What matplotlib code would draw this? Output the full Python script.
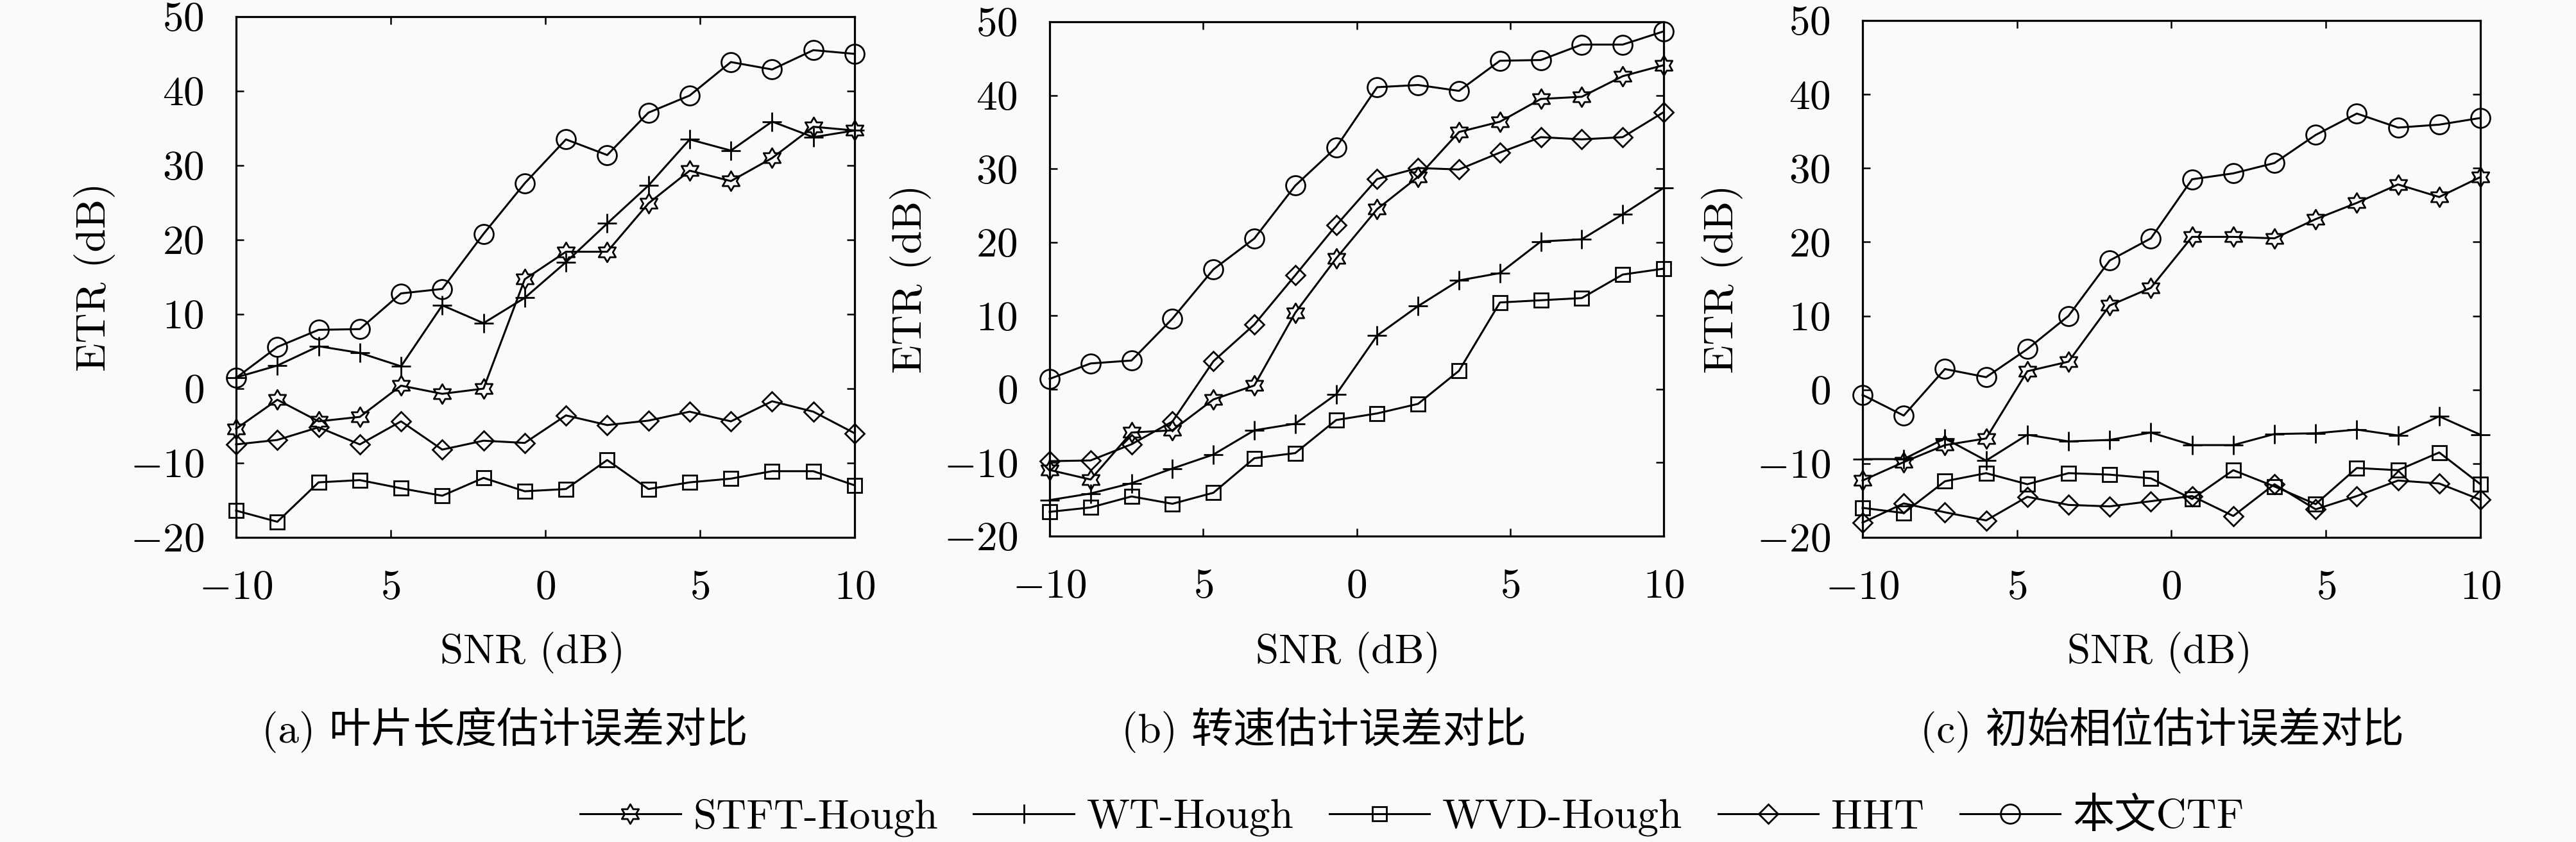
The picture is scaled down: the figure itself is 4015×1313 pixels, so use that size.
import numpy as np
import matplotlib
matplotlib.use("Agg")
import matplotlib.pyplot as plt
from matplotlib.path import Path

plt.rcParams['mathtext.fontset'] = 'cm'
plt.rcParams['font.family'] = ['cmr10', 'Noto Sans CJK SC', 'DejaVu Sans']
plt.rcParams['axes.unicode_minus'] = False
plt.rcParams['axes.formatter.use_mathtext'] = True

# ---------------- data ----------------
snr = np.linspace(-10, 10, 16)
series_names = ['STFT-Hough', 'WT-Hough', 'WVD-Hough', 'HHT', '本文CTF']

a_stft = [-5.4, -1.5, -4.4, -3.8, 0.4, -0.7, 0.0, 14.7, 18.4, 18.4, 24.9, 29.3, 27.9, 31.0, 35.2, 34.7]
a_wt   = [1.5, 3.1, 5.7, 4.8, 3.0, 11.2, 8.8, 12.2, 17.0, 22.2, 27.3, 33.5, 32.0, 35.9, 33.8, 34.7]
a_wvd  = [-16.4, -17.9, -12.6, -12.3, -13.4, -14.4, -12.0, -13.8, -13.5, -9.6, -13.5, -12.6, -12.1, -11.1, -11.1, -13.0]
a_hht  = [-7.5, -6.9, -5.2, -7.5, -4.4, -8.2, -7.0, -7.3, -3.6, -4.9, -4.3, -3.1, -4.4, -1.7, -3.1, -6.0]
a_ctf  = [1.45, 5.6, 7.9, 8.0, 12.8, 13.4, 20.8, 27.6, 33.5, 31.4, 37.1, 39.4, 43.9, 42.9, 45.5, 45.0]

b_stft = [-11.0, -12.3, -5.9, -5.6, -1.4, 0.5, 10.4, 17.8, 24.5, 28.9, 35.0, 36.4, 39.5, 39.8, 42.6, 44.1]
b_wt   = [-15.1, -14.2, -12.8, -10.8, -8.9, -5.6, -4.7, -0.7, 7.3, 11.3, 14.8, 15.8, 20.1, 20.4, 23.8, 27.4]
b_wvd  = [-16.7, -16.1, -14.6, -15.6, -14.1, -9.4, -8.7, -4.2, -3.3, -2.0, 2.5, 11.8, 12.1, 12.4, 15.6, 16.4]
b_hht  = [-9.8, -9.7, -7.5, -4.4, 3.8, 8.8, 15.5, 22.3, 28.6, 30.1, 29.9, 32.2, 34.3, 34.0, 34.3, 37.7]
b_ctf  = [1.4, 3.5, 3.9, 9.6, 16.3, 20.5, 27.7, 32.9, 41.1, 41.4, 40.6, 44.7, 44.8, 46.9, 46.9, 48.7]

c_stft = [-12.3, -9.8, -7.5, -6.6, 2.5, 3.8, 11.4, 13.8, 20.7, 20.7, 20.5, 23.1, 25.3, 27.8, 26.1, 28.8]
c_wt   = [-9.4, -9.4, -6.6, -9.6, -6.1, -7.0, -6.8, -5.8, -7.5, -7.5, -6.0, -5.9, -5.4, -6.2, -3.6, -6.1]
c_wvd  = [-16.0, -16.7, -12.4, -11.3, -12.8, -11.3, -11.5, -12.0, -14.8, -10.9, -13.1, -15.5, -10.6, -10.9, -8.5, -12.8]
c_hht  = [-18.0, -15.4, -16.6, -17.7, -14.5, -15.6, -15.8, -15.1, -14.4, -17.1, -12.8, -16.2, -14.4, -12.3, -12.7, -14.9]
c_ctf  = [-0.7, -3.5, 2.8, 1.7, 5.5, 10.0, 17.5, 20.5, 28.5, 29.3, 30.7, 34.5, 37.4, 35.5, 35.9, 36.8]

xticks = [-10, -5, 0, 5, 10]
xtick_labels = ['$-10$', '$5$', '$0$', '$5$', '$10$']
yticks = [50, 40, 30, 20, 10, 0, -10, -20]
ytick_labels = ['$50$', '$40$', '$30$', '$20$', '$10$', '$0$', '$-10$', '$-20$']
captions = ['(a) 叶片长度估计误差对比', '(b) 转速估计误差对比', '(c) 初始相位估计误差对比']
xlabel_text = 'SNR (dB)'
ylabel_text = 'ETR (dB)'

panels = [
    [a_stft, a_wt, a_wvd, a_hht, a_ctf],
    [b_stft, b_wt, b_wvd, b_hht, b_ctf],
    [c_stft, c_wt, c_wvd, c_hht, c_ctf],
]

# ---------------- style ----------------
W, H = 4016, 1313
FS = 47
BG = '#fafafa'
hexagram = Path.unit_regular_star(6, 0.577)
markers = [hexagram, '+', 's', 'D', 'o']
msizes = [22, 22, 16.5, 15, 21.5]

# axes boxes in pixels: left, right, top, bottom
boxes = [(368, 1332, 26, 838), (1636, 2593, 34, 836), (2903, 3866, 32, 838)]
ylab_x = [148, 1420, 2685]
xlab_cx = [830, 2101, 3366]
xlab_y = 1017
cap_cx = [787, 2063, 3370]
cap_y = 1138

fig = plt.figure(figsize=(W / 100, H / 100), dpi=100, facecolor=BG)

handles = None
for i, (box, data) in enumerate(zip(boxes, panels)):
    l, r, t, b = box
    ax = fig.add_axes([l / W, 1 - b / H, (r - l) / W, (b - t) / H])
    ax.set_facecolor(BG)
    hs = []
    for vals, mk, ms, name in zip(data, markers, msizes, series_names):
        h, = ax.plot(snr, vals, color='black', lw=2.2, marker=mk, ms=ms,
                     mfc='none', mec='black', mew=2.0, clip_on=False, label=name)
        hs.append(h)
    if handles is None:
        handles = hs
    ax.set_xlim(-10, 10)
    ax.set_ylim(-20, 50)
    ax.set_xticks(xticks)
    ax.set_xticklabels(xtick_labels)
    ax.set_yticks(yticks)
    ax.set_yticklabels(ytick_labels)
    ax.tick_params(direction='in', length=8.5, width=1.8, top=True, right=True,
                   labelsize=FS, colors='black')
    ax.tick_params(axis='x', pad=37)
    ax.tick_params(axis='y', pad=36)
    for sp in ax.spines.values():
        sp.set_linewidth(2.3)
    ax.set_xlabel(xlabel_text, fontsize=FS, va='center')
    ax.xaxis.set_label_coords((xlab_cx[i] - l) / (r - l), -(xlab_y - b) / (b - t))
    ax.set_ylabel(ylabel_text, fontsize=FS, va='center')
    ax.yaxis.set_label_coords((ylab_x[i] - l) / (r - l), 0.5)
    fig.text(cap_cx[i] / W, 1 - cap_y / H, captions[i], fontsize=FS,
             ha='center', va='center')

leg = fig.legend(handles=handles, labels=series_names, loc='center',
                 bbox_to_anchor=(2201 / W, 1 - 1275 / H), ncol=5, frameon=False,
                 fontsize=FS, handlelength=2.4, handletextpad=0.3,
                 columnspacing=0.85, borderpad=0.1)

fig.savefig('out.png', dpi=100, facecolor=BG)
